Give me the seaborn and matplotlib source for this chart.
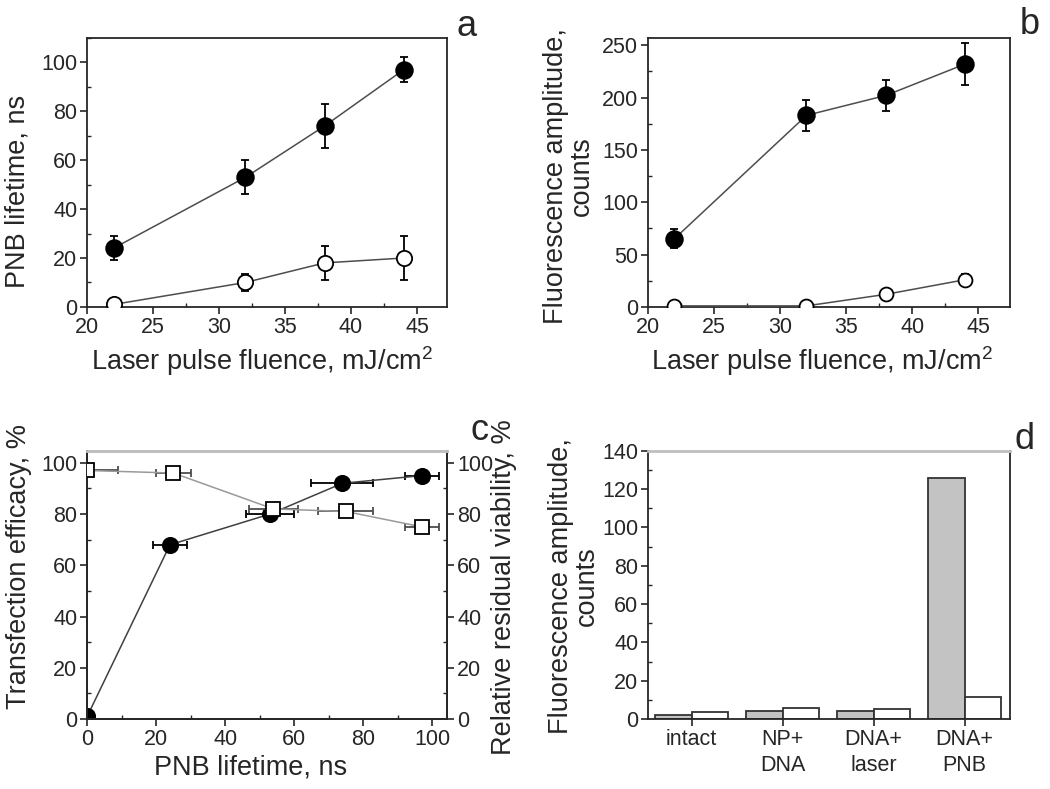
import numpy as np
import pandas as pd
import matplotlib
matplotlib.use("Agg")
import matplotlib.pyplot as plt
import seaborn as sns
from matplotlib.ticker import MultipleLocator

# ---- data ----
fluence = [22, 32, 38, 44]

# panel a: PNB lifetime, ns
a_filled = [24, 53, 74, 97]
a_filled_err = [5, 7, 9, 5]
a_open = [1, 10, 18, 20]
a_open_err = [2, 3.5, 7, 9]

# panel b: fluorescence amplitude, counts
b_filled = [65, 183, 202, 232]
b_filled_err = [9, 15, 15, 20]
b_open = [1, 1, 12, 26]
b_open_err = [4, 4, 5, 5]

# panel c: transfection efficacy vs PNB lifetime, viability on the right axis
c_lifetime = [0, 24, 53, 74, 97]
c_lifetime_err = [0, 5, 7, 9, 5]
c_transfection = [1, 68, 80, 92, 95]
c_viab_lifetime = [0, 25, 54, 75, 97]
c_viab_lifetime_err = [9, 5, 7, 8, 5]
c_viability = [97, 96, 82, 81, 75]

# panel d: bar groups
d_groups = ["intact", "NP+\nDNA", "DNA+\nlaser", "DNA+\nPNB"]
d_gray = [2.3, 4.3, 4.3, 126]
d_white = [3.5, 5.7, 5.4, 11.3]

sns.set_style("ticks")
plt.rcParams["font.family"] = ["Liberation Sans", "DejaVu Sans"]
plt.rcParams["mathtext.fontset"] = "custom"
plt.rcParams["mathtext.rm"] = "Liberation Sans"
plt.rcParams["mathtext.it"] = "Liberation Sans"
plt.rcParams["axes.linewidth"] = 1.3
plt.rcParams["axes.edgecolor"] = "0.15"

LABEL_FS = 19.5
TICK_FS = 15.5


def style_axis(ax):
    ax.tick_params(which="major", direction="out", length=5, width=1.2,
                   labelsize=TICK_FS, colors="0.15", pad=2)
    ax.tick_params(which="minor", direction="in", length=3, width=1)
    for sp in ax.spines.values():
        sp.set_visible(True)


def draw_series(ax, x, y, yerr=None, xerr=None, filled=True, ms=12,
                marker="o", line_color="0.3", err_color="black"):
    ax.errorbar(x, y, yerr=yerr, xerr=xerr, fmt="none", ecolor=err_color,
                elinewidth=1.3, capsize=3, capthick=1.3, zorder=2)
    sns.lineplot(x=x, y=y, ax=ax, color=line_color, linewidth=1.1,
                 marker=marker, markersize=ms,
                 markerfacecolor="black" if filled else "white",
                 markeredgecolor="black", markeredgewidth=1.3,
                 sort=False, zorder=3)


fig = plt.figure(figsize=(10.5, 7.89), dpi=100)
ax_a = fig.add_axes([0.083, 0.611, 0.343, 0.341])
ax_b = fig.add_axes([0.617, 0.611, 0.345, 0.341])
ax_c = fig.add_axes([0.083, 0.0887, 0.343, 0.340])
ax_d = fig.add_axes([0.617, 0.0887, 0.345, 0.340])

# ---- a ----
draw_series(ax_a, fluence, a_filled, yerr=a_filled_err, filled=True, ms=12)
draw_series(ax_a, fluence, a_open, yerr=a_open_err, filled=False, ms=11)
ax_a.set_xlim(20, 47.3)
ax_a.set_ylim(0, 110)
ax_a.xaxis.set_major_locator(MultipleLocator(5))
ax_a.xaxis.set_minor_locator(MultipleLocator(2.5))
ax_a.yaxis.set_major_locator(MultipleLocator(20))
ax_a.yaxis.set_minor_locator(MultipleLocator(10))
style_axis(ax_a)
ax_a.set_xlabel("Laser pulse fluence, mJ/cm$^{2}$", fontsize=LABEL_FS)
ax_a.set_ylabel("PNB lifetime, ns", fontsize=LABEL_FS)
ax_a.xaxis.set_label_coords(0.486, -0.14)
ax_a.yaxis.set_label_coords(-0.158, 0.43)

# ---- b ----
draw_series(ax_b, fluence, b_filled, yerr=b_filled_err, filled=True, ms=12)
draw_series(ax_b, fluence, b_open, yerr=b_open_err, filled=False, ms=10)
ax_b.set_xlim(20, 47.4)
ax_b.set_ylim(0, 257)
ax_b.xaxis.set_major_locator(MultipleLocator(5))
ax_b.xaxis.set_minor_locator(MultipleLocator(2.5))
ax_b.yaxis.set_major_locator(MultipleLocator(50))
ax_b.yaxis.set_minor_locator(MultipleLocator(25))
style_axis(ax_b)
ax_b.set_xlabel("Laser pulse fluence, mJ/cm$^{2}$", fontsize=LABEL_FS)
ax_b.set_ylabel("Fluorescence amplitude,\ncounts", fontsize=LABEL_FS,
                linespacing=1.0)
ax_b.xaxis.set_label_coords(0.48, -0.14)
ax_b.yaxis.set_label_coords(-0.146, 0.487)

# ---- c ----
ax_c2 = ax_c.twinx()
ax_c2.set_position(ax_c.get_position())
draw_series(ax_c, c_lifetime, c_transfection, xerr=c_lifetime_err,
            filled=True, ms=11, line_color="0.25")
draw_series(ax_c2, c_viab_lifetime, c_viability, xerr=c_viab_lifetime_err,
            filled=False, marker="s", ms=10, line_color="0.6",
            err_color="0.3")
for ax in (ax_c, ax_c2):
    ax.set_xlim(0, 104.4)
    ax.set_ylim(0, 104.7)
    ax.yaxis.set_major_locator(MultipleLocator(20))
    ax.yaxis.set_minor_locator(MultipleLocator(10))
ax_c.xaxis.set_major_locator(MultipleLocator(20))
ax_c.xaxis.set_minor_locator(MultipleLocator(10))
style_axis(ax_c)
style_axis(ax_c2)
ax_c2.spines["top"].set_color("0.75")
ax_c2.spines["top"].set_linewidth(2)
ax_c.spines["top"].set_color("0.75")
ax_c.spines["top"].set_linewidth(2)
ax_c.set_xlabel("PNB lifetime, ns", fontsize=LABEL_FS)
ax_c.set_ylabel("Transfection efficacy, %", fontsize=LABEL_FS)
ax_c2.set_ylabel("Relative residual viability, %", fontsize=LABEL_FS)
ax_c.xaxis.set_label_coords(0.453, -0.134)
ax_c.yaxis.set_label_coords(-0.153, 0.567)
ax_c2.yaxis.set_label_coords(1.12, 0.49)

# ---- d ----
d_df = pd.DataFrame({
    "group": d_groups * 2,
    "value": d_gray + d_white,
    "series": ["gray"] * len(d_groups) + ["white"] * len(d_groups),
})
sns.barplot(data=d_df, x="group", y="value", hue="series", ax=ax_d,
            palette={"gray": "#c3c3c3", "white": "white"},
            edgecolor="0.2", linewidth=1.3, width=0.8, legend=False)
ax_d.set_xlim(-0.48, 3.5)
ax_d.set_ylim(0, 140)
ax_d.yaxis.set_major_locator(MultipleLocator(20))
ax_d.yaxis.set_minor_locator(MultipleLocator(10))
style_axis(ax_d)
ax_d.tick_params(axis="x", which="minor", length=0)
ax_d.spines["top"].set_color("0.75")
ax_d.spines["top"].set_linewidth(2)
ax_d.set_xlabel("")
ax_d.set_ylabel("Fluorescence amplitude,\ncounts", fontsize=LABEL_FS,
                linespacing=1.0)
ax_d.yaxis.set_label_coords(-0.133, 0.496)
for lab in ax_d.get_xticklabels():
    lab.set_linespacing(1.3)

# ---- panel letters ----
for letter, (px, py) in {"a": (467, 27), "b": (1030, 25),
                         "c": (480, 430), "d": (1025, 440)}.items():
    fig.text(px / 1050, 1 - py / 789, letter, fontsize=26,
             ha="center", va="center")

fig.savefig("out.png", dpi=100)
